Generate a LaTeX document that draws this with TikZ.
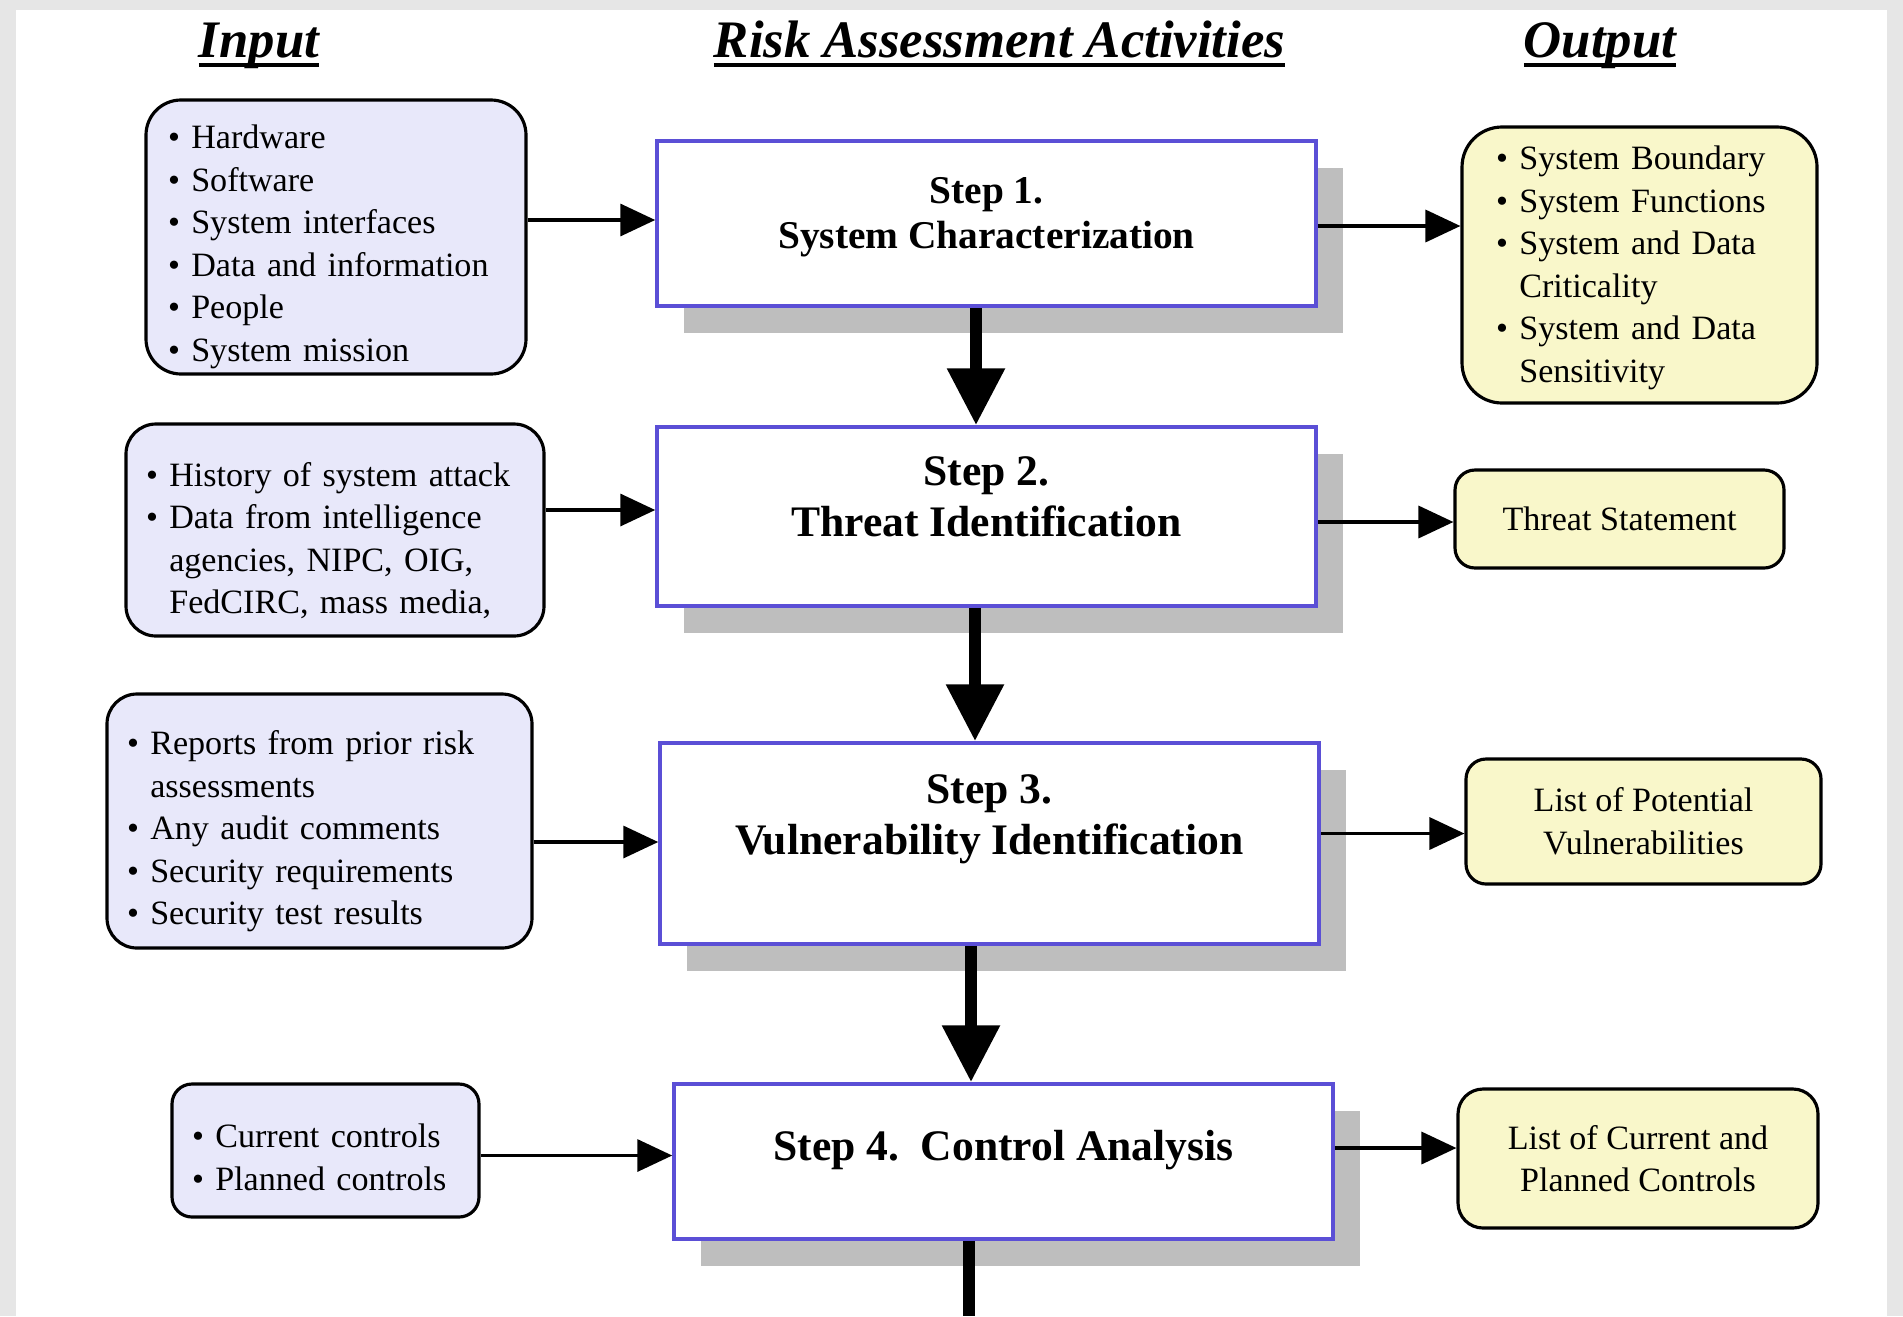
\documentclass[tikz,border=0pt]{standalone}
\usepackage{fontspec}
\setmainfont{Liberation Serif}
\usepackage{tikz}
\usetikzlibrary{arrows.meta,shadows}
\definecolor{bggray}{HTML}{E6E6E6}
\definecolor{infill}{HTML}{E8E8FA}
\definecolor{outfill}{HTML}{F9F7CA}
\definecolor{stepline}{HTML}{5B4FD6}
\definecolor{shade}{HTML}{BEBEBE}
\tikzset {>=Stealth}
\tikzset{
  rbox/.style={draw,line width=0.9pt,rounded corners=0.3cm,inner ysep=0.02cm,font=\fontsize{9.7}{12.1}\selectfont},
  inbox/.style={rbox,fill=infill,align=left,inner xsep=0.2cm},
  outbox/.style={rbox,fill=outfill},
  stepbox/.style={draw=stepline,line width=1pt,fill=white,minimum width=6.59cm,
    drop shadow={shadow xshift=0.27cm,shadow yshift=-0.27cm,fill=shade,opacity=1}},
  steptext/.style={align=center,font=\bfseries\fontsize{12.4}{14.5}\selectfont},
  heading/.style={anchor=base,font=\bfseries\itshape\fontsize{15}{18}\selectfont},
  thin arrow/.style={line width=1pt,-{Triangle[length=0.35cm,width=0.32cm]}},
  fat arrow/.style={line width=3.5pt,-{Triangle[length=0.57cm,width=0.55cm]}},
  fat line/.style={line width=3.5pt}
}
\newcommand{\bul}{\textbullet\ }
\newcommand{\hang}{\phantom{\textbullet\ }}
\newcommand{\headline}[1]{\setbox0\hbox{#1}\rlap{\rule[-2.6pt]{\wd0}{1.1pt}}\box0}

\begin{document}
\begin{tikzpicture}
\useasboundingbox (0,0) rectangle (19.03,-13.16);
\fill[bggray] (0,0) rectangle (19.03,-13.16);
\fill[white] (0.16,-0.10) rectangle (18.87,-13.16);

% column headings
\node[heading] (hin) at (2.59,-0.575) {\headline{Input}};
\node[heading] (hact) at (9.995,-0.575) {\headline{Risk Assessment Activities}};
\node[heading] (hout) at (16.00,-0.575) {\headline{Output}};

% steps
\node[stepbox,minimum height=1.65cm] (s1) at (9.865,-2.235) {};
\node[steptext,font=\bfseries\fontsize{11.2}{12.8}\selectfont] (s1t) at ([yshift=0.065cm]s1.center) {Step 1.\\System Characterization};
\node[stepbox,minimum height=1.79cm] (s2) at (9.865,-5.165) {};
\node[steptext] (s2t) at ([yshift=0.2cm]s2.center) {Step 2.\\Threat Identification};
\node[stepbox,minimum height=2.01cm] (s3) at (9.895,-8.435) {};
\node[steptext] (s3t) at ([yshift=0.24cm]s3.center) {Step 3.\\Vulnerability Identification};
\node[stepbox,minimum height=1.55cm] (s4) at (10.035,-11.615) {};
\node[steptext] (s4t) at ([yshift=0.11cm]s4.center) {Step 4.\ \ Control Analysis};

% inputs
\node[inbox,rounded corners=0.35cm,inner xsep=0.22cm,text width=3.36cm,text height=0.43cm,minimum height=2.74cm] (in1) at (3.36,-2.37)
  {\bul Hardware\\\bul Software\\\bul System interfaces\\\bul Data and information\\\bul People\\\bul System mission};
\node[inbox,text width=3.78cm,text height=0.45cm,minimum height=2.12cm] (in2) at (3.35,-5.30)
  {\bul History of system attack\\\bul Data from intelligence\\\hang agencies, NIPC, OIG,\\\hang FedCIRC, mass media,};
\node[inbox,text width=3.85cm,text height=0.45cm,minimum height=2.54cm] (in3) at (3.195,-8.21)
  {\bul Reports from prior risk\\\hang assessments\\\bul Any audit comments\\\bul Security requirements\\\bul Security test results};
\node[inbox,rounded corners=0.2cm,text width=2.67cm,text height=0.37cm,minimum height=1.33cm] (in4) at (3.255,-11.505)
  {\bul Current controls\\\bul Planned controls};

% outputs
\node[outbox,rounded corners=0.4cm,align=left,inner xsep=0.34cm,text width=2.87cm,text height=0.29cm,minimum height=2.76cm] (o1) at (16.395,-2.65)
  {\bul System Boundary\\\bul System Functions\\\bul System and Data\\\hang Criticality\\\bul System and Data\\\hang Sensitivity};
\node[outbox,rounded corners=0.2cm,minimum width=3.29cm,minimum height=0.98cm] (o2) at (16.195,-5.19) {Threat Statement};
\node[outbox,rounded corners=0.2cm,align=center,minimum width=3.55cm,minimum height=1.25cm] (o3) at (16.435,-8.215)
  {List of Potential\\Vulnerabilities};
\node[outbox,rounded corners=0.25cm,align=center,minimum width=3.60cm,minimum height=1.39cm] (o4) at (16.38,-11.585)
  {List of Current and\\Planned Controls};

% inputs to steps
\draw[thin arrow] ([yshift=0.17cm]in1.east) -- ([yshift=0.17cm]in1.east -| s1.west);
\draw[thin arrow] ([yshift=0.20cm]in2.east) -- ([yshift=0.20cm]in2.east -| s2.west);
\draw[thin arrow] ([yshift=-0.21cm]in3.east) -- ([yshift=-0.21cm]in3.east -| s3.west);
\draw[thin arrow] ([yshift=-0.05cm]in4.east) -- ([yshift=-0.05cm]in4.east -| s4.west);

% steps to outputs
\draw[thin arrow] ([yshift=-0.025cm]s1.east) -- ([yshift=-0.025cm]s1.east -| o1.west);
\draw[thin arrow] ([yshift=-0.055cm]s2.east) -- ([yshift=-0.055cm]s2.east -| o2.west);
\draw[thin arrow] ([yshift=0.10cm]s3.east) -- ([yshift=0.10cm]s3.east -| o3.west);
\draw[thin arrow] ([yshift=0.135cm]s4.east) -- ([yshift=0.135cm]s4.east -| o4.west);

% step to step
\draw[fat arrow] ([xshift=-0.105cm]s1.south) -- ([xshift=-0.105cm]s1.south |- s2.north);
\draw[fat arrow] ([xshift=-0.115cm]s2.south) -- ([xshift=-0.115cm]s2.south |- s3.north);
\draw[fat arrow] ([xshift=-0.185cm]s3.south) -- ([xshift=-0.185cm]s3.south |- s4.north);
\coordinate (tail) at (9.69,-13.16);
\draw[fat line] (s4.south -| tail) -- (tail);
\end{tikzpicture}
\end{document}
